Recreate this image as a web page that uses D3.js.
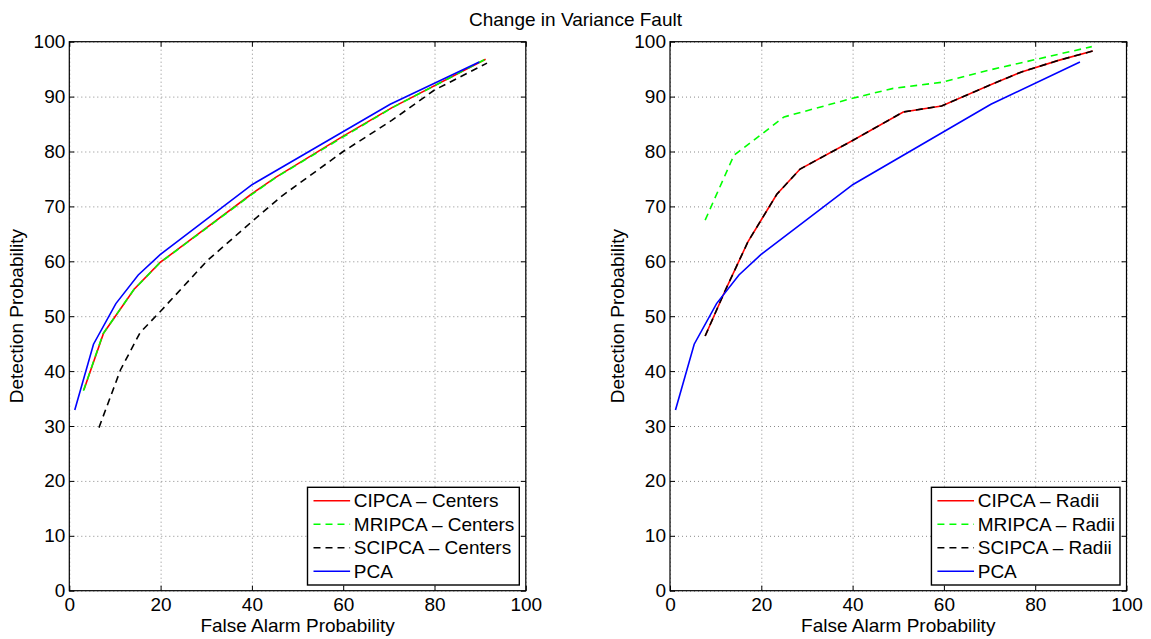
<!DOCTYPE html>
<html>
<head>
<meta charset="utf-8">
<script src="https://cdn.jsdelivr.net/npm/d3@7"></script>
<style>
  html, body { margin: 0; padding: 0; background: #fff; }
  svg { display: block; font-family: 'Liberation Sans', Arial, Helvetica, sans-serif; }
</style>
</head>
<body>
<div id="chart"></div>
<script>
const title = 'Change in Variance Fault';
const xLabel = 'False Alarm Probability';
const yLabel = 'Detection Probability';
const xTicks = [0, 20, 40, 60, 80, 100];
const yTicks = [0, 10, 20, 30, 40, 50, 60, 70, 80, 90, 100];

// PCA (same baseline in both panels)
const pcaFa = [1.2, 5.3, 10.2, 15.1, 19.9, 40.1, 70.3, 89.8];
const pcaPd = [32.9, 44.9, 52.3, 57.5, 61.2, 74.0, 88.6, 96.3];

// left panel - centers
const cipcaCentersFa = [3.2, 7.5, 14.2, 19.9, 24.6, 40.0, 45.2, 60.0, 70.7, 91.2];
const cipcaCentersPd = [36.6, 46.9, 54.9, 59.8, 62.7, 72.3, 75.3, 82.8, 88.0, 96.8];
const mripcaCentersFa = [3.1, 7.4, 14.1, 19.8, 24.5, 40.0, 45.3, 60.1, 70.8, 91.6];
const mripcaCentersPd = [36.4, 46.8, 54.8, 59.7, 62.6, 72.2, 75.3, 82.7, 88.0, 97.0];
const scipcaCentersFa = [6.5, 11.2, 15.5, 20.1, 30.2, 40.1, 46.4, 60.0, 70.7, 80.0, 91.5];
const scipcaCentersPd = [29.7, 40.2, 47.0, 51.0, 60.1, 67.3, 71.8, 80.0, 85.7, 91.2, 96.1];

// right panel - radii
const cipcaRadiiFa = [7.7, 12.0, 17.1, 23.4, 28.5, 40.0, 51.1, 59.5, 70.1, 77.0, 85.1, 92.6];
const cipcaRadiiPd = [46.4, 54.5, 63.6, 72.2, 76.8, 82.0, 87.2, 88.3, 92.1, 94.5, 96.6, 98.3];
const mripcaRadiiFa = [7.7, 14.0, 25.0, 40.0, 48.9, 59.5, 70.3, 92.4];
const mripcaRadiiPd = [67.5, 79.3, 86.3, 89.7, 91.5, 92.6, 94.9, 99.1];
const scipcaRadiiFa = [7.7, 12.0, 17.1, 23.4, 28.5, 40.0, 51.1, 59.5, 70.1, 77.0, 85.1, 92.6];
const scipcaRadiiPd = [46.4, 54.5, 63.6, 72.2, 76.8, 82.0, 87.2, 88.3, 92.1, 94.5, 96.6, 98.3];

const zip = (xs, ys) => xs.map((x, i) => ({ x, y: ys[i] }));

const panels = [
  {
    left: 69.3,
    series: [
      { name: 'CIPCA \u2013 Centers', color: '#ff0000', dash: null, data: zip(cipcaCentersFa, cipcaCentersPd) },
      { name: 'MRIPCA \u2013 Centers', color: '#00ff00', dash: '7,5', data: zip(mripcaCentersFa, mripcaCentersPd) },
      { name: 'SCIPCA \u2013 Centers', color: '#000000', dash: '7,5', data: zip(scipcaCentersFa, scipcaCentersPd) },
      { name: 'PCA', color: '#0000ff', dash: null, data: zip(pcaFa, pcaPd) },
    ],
  },
  {
    left: 670,
    series: [
      { name: 'CIPCA \u2013 Radii', color: '#ff0000', dash: null, data: zip(cipcaRadiiFa, cipcaRadiiPd) },
      { name: 'MRIPCA \u2013 Radii', color: '#00ff00', dash: '7,5', data: zip(mripcaRadiiFa, mripcaRadiiPd) },
      { name: 'SCIPCA \u2013 Radii', color: '#000000', dash: '7,5', data: zip(scipcaRadiiFa, scipcaRadiiPd) },
      { name: 'PCA', color: '#0000ff', dash: null, data: zip(pcaFa, pcaPd) },
    ],
  },
];

const W = 1151, H = 639;
const marginTop = 41.7;
const width = 456.5;
const height = 549;
const fontSize = 19;

const svg = d3.select('#chart').append('svg')
  .attr('width', W)
  .attr('height', H);

svg.append('text')
  .attr('x', W / 2)
  .attr('y', 26)
  .attr('text-anchor', 'middle')
  .style('font-size', fontSize + 'px')
  .style('fill', '#000')
  .text(title);

const x = d3.scaleLinear().domain([0, 100]).range([0, width]);
const y = d3.scaleLinear().domain([0, 100]).range([height, 0]);

panels.forEach(p => {
  const g = svg.append('g').attr('transform', `translate(${p.left},${marginTop})`);

  // dotted grid
  const gridX = g.append('g')
    .attr('transform', `translate(0,${height})`)
    .call(d3.axisBottom(x).tickValues(xTicks).tickSize(-height).tickFormat(''));
  const gridY = g.append('g')
    .call(d3.axisLeft(y).tickValues(yTicks).tickSize(-width).tickFormat(''));
  [gridX, gridY].forEach(gr => {
    gr.select('.domain').remove();
    gr.selectAll('.tick line')
      .attr('stroke', '#8a8a8a')
      .attr('stroke-width', 1)
      .attr('stroke-dasharray', '1,3');
  });

  // data lines
  const line = d3.line().x(d => x(d.x)).y(d => y(d.y));
  p.series.forEach(s => {
    g.append('path')
      .datum(s.data)
      .attr('fill', 'none')
      .attr('stroke', s.color)
      .attr('stroke-width', 1.6)
      .attr('stroke-dasharray', s.dash)
      .attr('d', line);
  });

  // axes with inward ticks on all four sides
  const xAxis = g.append('g')
    .attr('transform', `translate(0,${height})`)
    .call(d3.axisBottom(x).tickValues(xTicks).tickSize(-5).tickPadding(7));
  const yAxis = g.append('g')
    .call(d3.axisLeft(y).tickValues(yTicks).tickSize(-5).tickPadding(4));
  const xTop = g.append('g')
    .call(d3.axisTop(x).tickValues(xTicks).tickSize(-5).tickFormat(''));
  const yRight = g.append('g')
    .attr('transform', `translate(${width},0)`)
    .call(d3.axisRight(y).tickValues(yTicks).tickSize(-5).tickFormat(''));
  [xAxis, yAxis, xTop, yRight].forEach(a => {
    a.select('.domain').remove();
    a.selectAll('.tick line').attr('stroke', '#000');
    a.selectAll('text')
      .style('font-size', fontSize + 'px')
      .style('font-family', "'Liberation Sans', Arial, Helvetica, sans-serif")
      .style('fill', '#000');
  });

  g.append('rect')
    .attr('width', width)
    .attr('height', height)
    .attr('fill', 'none')
    .attr('stroke', '#000')
    .attr('stroke-width', 1.2);

  g.append('text')
    .attr('x', width / 2)
    .attr('y', height + 41)
    .attr('text-anchor', 'middle')
    .style('font-size', fontSize + 'px')
    .text(xLabel);

  g.append('text')
    .attr('transform', `translate(-46,${height / 2}) rotate(-90)`)
    .attr('text-anchor', 'middle')
    .style('font-size', fontSize + 'px')
    .text(yLabel);

  // legend, anchored to the lower right corner
  const leg = g.append('g');
  const labels = leg.selectAll('text.lg')
    .data(p.series)
    .enter()
    .append('text')
    .attr('class', 'lg')
    .style('font-size', fontSize + 'px')
    .attr('dy', '0.35em')
    .text(d => d.name);
  const textW = d3.max(labels.nodes(), n => n.getComputedTextLength());
  const rowH = 23.5;
  const boxW = 6 + 36.6 + 3.7 + textW + 5;
  const boxH = 97.7;
  const bx = width - 6.5 - boxW;
  const by = height - 5.7 - boxH;

  leg.insert('rect', 'text')
    .attr('x', bx)
    .attr('y', by)
    .attr('width', boxW)
    .attr('height', boxH)
    .attr('fill', '#fff')
    .attr('stroke', '#000')
    .attr('stroke-width', 1.4);

  labels
    .attr('x', bx + 6 + 36.6 + 3.7)
    .attr('y', (d, i) => by + 13.4 + i * rowH);

  leg.selectAll('line.lg')
    .data(p.series)
    .enter()
    .append('line')
    .attr('x1', bx + 6)
    .attr('x2', bx + 6 + 36.6)
    .attr('y1', (d, i) => by + 13.4 + i * rowH)
    .attr('y2', (d, i) => by + 13.4 + i * rowH)
    .attr('stroke', d => d.color)
    .attr('stroke-width', 1.6)
    .attr('stroke-dasharray', d => d.dash);
});
</script>
</body>
</html>
